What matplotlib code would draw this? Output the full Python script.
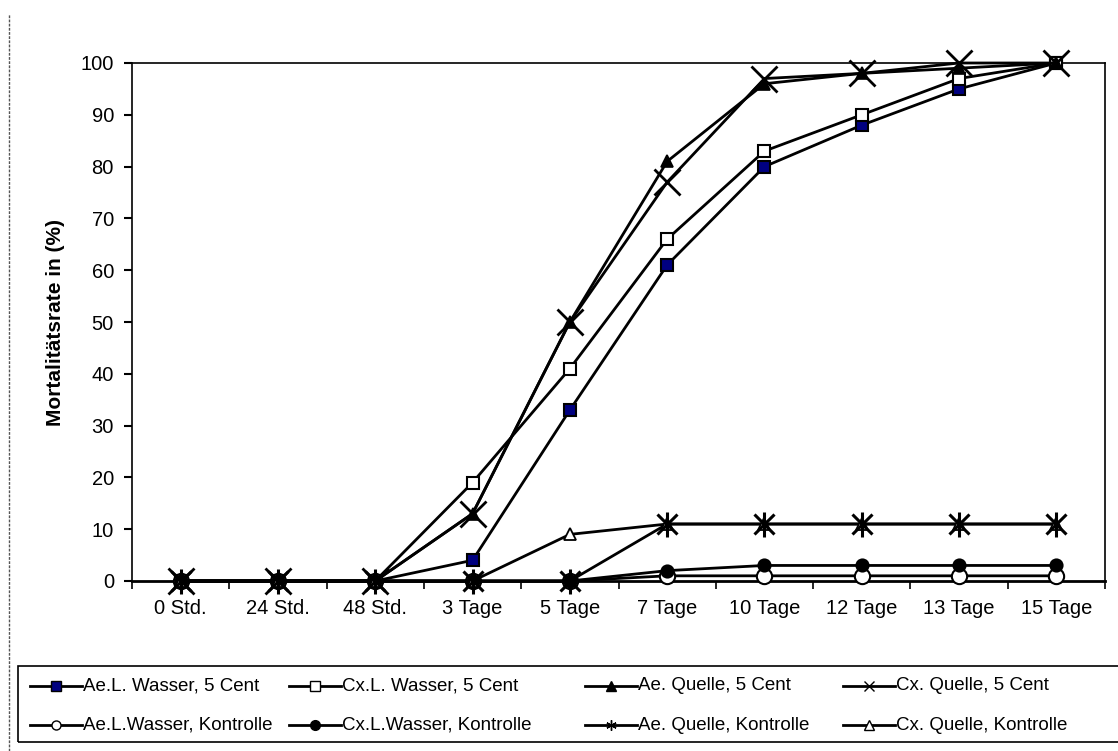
import matplotlib
matplotlib.use("Agg")
import matplotlib.pyplot as plt
from matplotlib.lines import Line2D
from matplotlib.patches import Rectangle

plt.rcParams["font.family"] = ["Liberation Sans", "DejaVu Sans"]

categories = ["0 Std.", "24 Std.", "48 Std.", "3 Tage", "5 Tage", "7 Tage",
              "10 Tage", "12 Tage", "13 Tage", "15 Tage"]

ae_wasser_5c = [0, 0, 0, 4, 33, 61, 80, 88, 95, 100]
cx_wasser_5c = [0, 0, 0, 19, 41, 66, 83, 90, 97, 100]
ae_quelle_5c = [0, 0, 0, 13, 50, 81, 96, 98, 99, 100]
cx_quelle_5c = [0, 0, 0, 13, 50, 77, 97, 98, 100, 100]
ae_wasser_ktrl = [0, 0, 0, 0, 0, 1, 1, 1, 1, 1]
cx_wasser_ktrl = [0, 0, 0, 0, 0, 2, 3, 3, 3, 3]
ae_quelle_ktrl = [0, 0, 0, 0, 0, 11, 11, 11, 11, 11]
cx_quelle_ktrl = [0, 0, 0, 0, 9, 11, 11, 11, 11, 11]

series_labels = ["Ae.L. Wasser, 5 Cent", "Cx.L. Wasser, 5 Cent",
                 "Ae. Quelle, 5 Cent", "Cx. Quelle, 5 Cent",
                 "Ae.L.Wasser, Kontrolle", "Cx.L.Wasser, Kontrolle",
                 "Ae. Quelle, Kontrolle", "Cx. Quelle, Kontrolle"]
series_values = [ae_wasser_5c, cx_wasser_5c, ae_quelle_5c, cx_quelle_5c,
                 ae_wasser_ktrl, cx_wasser_ktrl, ae_quelle_ktrl, cx_quelle_ktrl]

# (marker, face colour, plot size, legend size, marker edge width)
styles = [
    ("s", "#000080", 9, 7.5, 1.5),
    ("s", "white", 9, 6.5, 1.5),
    ("^", "black", 9, 7, 1.2),
    ("x", "black", 19, 6.5, 2.0),
    ("o", "white", 11, 6.5, 1.5),
    ("o", "black", 9, 7, 1.2),
    ("*", "black", 0, 6.5, 1.0),
    ("^", "white", 9, 6.5, 1.3),
]

W, H = 1118, 751
fig = plt.figure(figsize=(W / 100, H / 100), dpi=100)
ax = fig.add_axes([132 / W, 1 - 581 / H, (1105 - 132) / W, (581 - 63) / H])

x = list(range(len(categories)))
for vals, (mk, fc, ms, lms, mew) in zip(series_values, styles):
    if mk == "*":
        # asterisk drawn as an x with a vertical bar through it
        ax.plot(x, vals, color="black", lw=2, zorder=3, clip_on=False)
        ax.plot(x, vals, ls="none", marker="x", ms=15, mew=2.2, color="black",
                zorder=4, clip_on=False)
        ax.plot(x, vals, ls="none", marker="|", ms=18, mew=2.2, color="black",
                zorder=4, clip_on=False)
    else:
        ax.plot(x, vals, color="black", lw=2, marker=mk, ms=ms, mfc=fc,
                mec="black", mew=mew, zorder=3, clip_on=False)

ax.set_xlim(-0.5, len(categories) - 0.5)
ax.set_ylim(0, 100)
ax.set_yticks(range(0, 101, 10))
ax.set_xticks(x)
ax.set_xticklabels(categories)
ax.set_xticks([i - 0.5 for i in range(len(categories) + 1)], minor=True)
ax.tick_params(axis="x", which="major", length=0, pad=13, labelsize=14.5)
ax.tick_params(axis="x", which="minor", length=6, width=1.2, direction="out")
ax.tick_params(axis="y", length=6, width=1.5, direction="out", pad=7, labelsize=14.5)
for s in ax.spines.values():
    s.set_linewidth(1.2)
ax.spines["bottom"].set_linewidth(2)

ax.set_ylabel("Mortalitätsrate in (%)", fontsize=15, fontweight="bold")
ax.yaxis.set_label_coords((65 - 132) / (1105 - 132), 0.5)

# thin dashed border on the left side of the page
fig.add_artist(Line2D([9 / W, 9 / W], [0, 1 - 14 / H], color="#555555",
                      lw=1, ls=(0, (2, 1))))

# legend box: two rows of four entries
fig.add_artist(Rectangle((18 / W, 1 - 742 / H), (1140 - 18) / W, (742 - 666) / H,
                         transform=fig.transFigure, fill=False, ec="black", lw=1.2,
                         clip_on=False))
col_x = [30, 289, 585, 843]
row_y = [686, 725]
handle_len = 52
for i, (lab, (mk, fc, ms, lms, mew)) in enumerate(zip(series_labels, styles)):
    x0 = col_x[i % 4]
    y0 = 1 - row_y[i // 4] / H
    xs = [x0 / W, (x0 + handle_len) / W]
    fig.add_artist(Line2D(xs, [y0, y0], color="black", lw=2))
    xm = (x0 + handle_len / 2) / W
    if mk == "*":
        fig.add_artist(Line2D([xm], [y0], ls="none", marker=(6, 2, 0), ms=lms + 1,
                              mew=1.0, color="black"))
    else:
        fig.add_artist(Line2D([xm], [y0], ls="none", marker=mk, ms=lms, mfc=fc,
                              mec="black", mew=1.0))
    fig.text((x0 + handle_len + 1) / W, y0, lab, fontsize=13.5, va="center", ha="left")

fig.savefig("out.png", dpi=100)
